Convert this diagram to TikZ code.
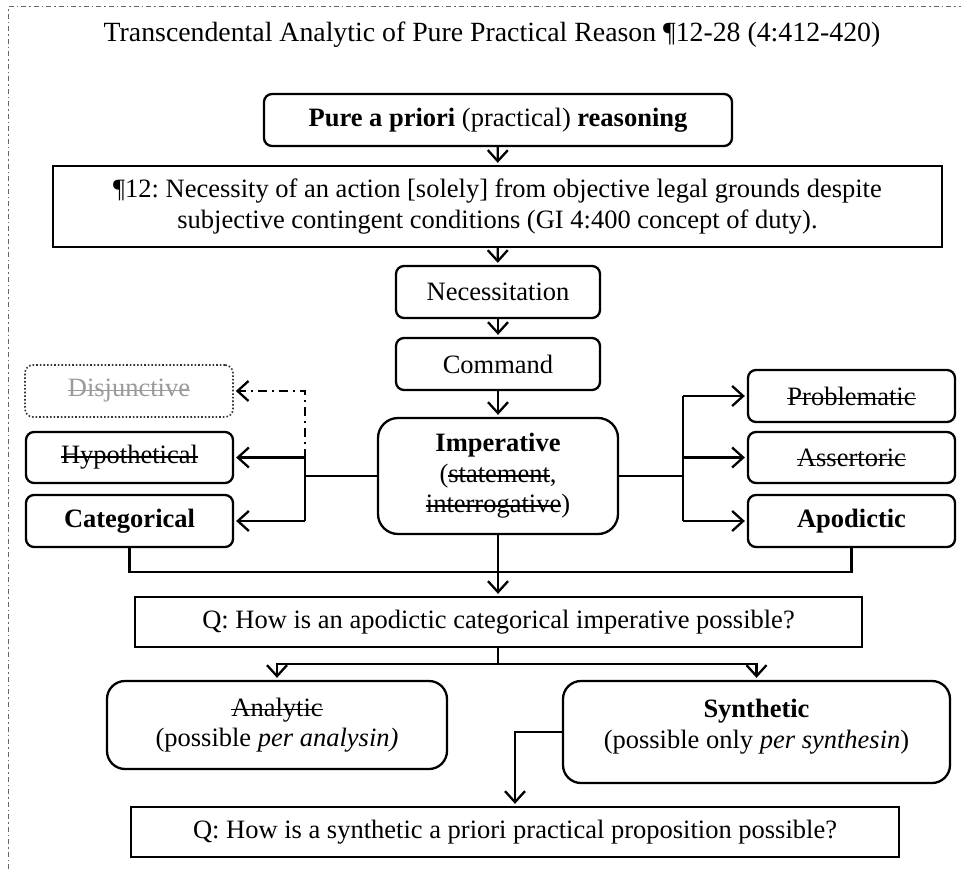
\documentclass[tikz,border=0pt]{standalone}
\usepackage{fontspec}
\setmainfont{Liberation Serif}
\usetikzlibrary{arrows.meta}
% struck-through text drawn with a rule over a saved box
\newsavebox{\strkbox}
\newcommand{\strk}[1]{\sbox{\strkbox}{#1}\usebox{\strkbox}\llap{\rule[0.22em]{\wd\strkbox}{1.6pt}}}
\definecolor{fadegray}{HTML}{9A9A9A}
\tikzset{
  box/.style={draw, line width=2.3pt, rounded corners=8pt, align=center, inner sep=0pt},
  sqbox/.style={draw, line width=2.3pt, align=center, inner sep=0pt},
  faintbox/.style={draw=black!80, line width=1.6pt, dotted, rounded corners=8pt, align=center, inner sep=0pt, text=fadegray},
  link/.style={line width=2.3pt},
  arr/.style={line width=2.3pt, -{Straight Barb[length=11pt,width=20pt,line width=2.3pt]}, shorten >=2pt},
  dashdotarr/.style={arr, dash pattern=on 9pt off 5pt on 2pt off 5pt},
  frameline/.style={line width=1pt, black!60, dash pattern=on 5pt off 3pt on 1.5pt off 3pt}
}
\begin{document}
\frenchspacing
\begin{tikzpicture}[x=1pt, y=-1pt, font=\fontsize{26.5}{30.5}\selectfont]
\useasboundingbox (0,0) rectangle (961,869);

% outer frame (top and left edges)
\draw[frameline] (8,869) -- (8,7) -- (961,7);

% title
\node[anchor=base, font=\fontsize{27.8}{32}\selectfont] (title) at (492,41.7)
  {Transcendental Analytic of Pure Practical Reason ¶12-28 (4:412-420)};

% central column
\node[box, minimum width=468pt, minimum height=52pt] (pure) at (498,120)
  {\textbf{Pure a priori} (practical) \textbf{reasoning}};
\node[sqbox, minimum width=889pt, minimum height=81pt] (para) at (497.5,206.5)
  {¶12: Necessity of an action [solely] from objective legal grounds despite\\
   subjective contingent conditions (GI 4:400 concept of duty).};
\node[box, minimum width=204pt, minimum height=52pt] (necess) at (498,292) {Necessitation};
\node[box, minimum width=204pt, minimum height=52pt] (command) at (498,364) {Command};
\node[box, rounded corners=20pt, minimum width=240pt, minimum height=116pt] (imper) at (498,476)
  {\textbf{Imperative}\\(\strk{statement},\\\strk{interrogative})};

% left branch
\node[faintbox, minimum width=208pt, minimum height=52pt] (disj) at (129,391) {\strk{Disjunctive}};
\node[box, minimum width=207pt, minimum height=51pt] (hypo) at (129.5,457.5) {\strk{Hypothetical}};
\node[box, minimum width=207pt, minimum height=52pt] (categ) at (129.5,521) {\textbf{Categorical}};

% right branch
\node[box, minimum width=207pt, minimum height=52pt] (probl) at (851.5,396) {\strk{Problematic}};
\node[box, minimum width=207pt, minimum height=51pt] (assert) at (851.5,457.5) {\strk{Assertoric}};
\node[box, minimum width=207pt, minimum height=52pt] (apod) at (851.5,521) {\textbf{Apodictic}};

% questions and judgement kinds
\node[sqbox, minimum width=727pt, minimum height=50pt] (q1) at (498.5,622)
  {Q: How is an apodictic categorical imperative possible?};
\node[box, rounded corners=18pt, minimum width=340pt, minimum height=88pt] (analytic) at (277,725)
  {\strk{Analytic}\\(possible \textit{per analysin)}};
\node[box, rounded corners=18pt, minimum width=387pt, minimum height=102pt] (synth) at (756.5,732) {};
\node[align=center, inner sep=0pt] (synthtext) at (756.5,726.5)
  {\textbf{Synthetic}\\(possible only \textit{per synthesin})};
\node[sqbox, minimum width=768pt, minimum height=50pt] (q2) at (515,832)
  {Q: How is a synthetic a priori practical proposition possible?};

% junction points
\coordinate (jl) at (305,476);
\coordinate (jr) at (683,476);
\coordinate (bar) at (498,572);
\coordinate (split) at (498.5,664);

% vertical chain
\draw[arr] (pure) -- (para);
\draw[arr] (para) -- (necess);
\draw[arr] (necess) -- (command);
\draw[arr] (command) -- (imper);

% imperative to the left options
\draw[link] (imper.west) -- (jl);
\draw[link] (jl |- hypo.east) -- (jl |- categ.east);
\draw[arr] (jl |- hypo.east) -- (hypo.east);
\draw[arr] (jl |- categ.east) -- (categ.east);
\draw[dashdotarr] (jl |- hypo.east) -- (jl |- disj.east) -- (disj.east);

% imperative to the right options
\draw[link] (imper.east) -- (jr);
\draw[link] (jr |- probl.west) -- (jr |- apod.west);
\draw[arr] (jr |- probl.west) -- (probl.west);
\draw[arr] (jr |- assert.west) -- (assert.west);
\draw[arr] (jr |- apod.west) -- (apod.west);

% merge into the first question
\draw[link] (categ.south) -- (categ.south |- bar) -- (apod.south |- bar) -- (apod.south);
\draw[arr] (imper.south) -- (imper.south |- q1.north);

% split into analytic / synthetic
\draw[link] (q1.south -| imper.south) -- (split -| imper.south);
\draw[arr] (split -| imper.south) -| (analytic.north);
\draw[arr] (split -| imper.south) -| (synth.north);

% synthetic to the second question
\draw[arr] (synth.west) -| (q2.north);
\end{tikzpicture}
\end{document}
